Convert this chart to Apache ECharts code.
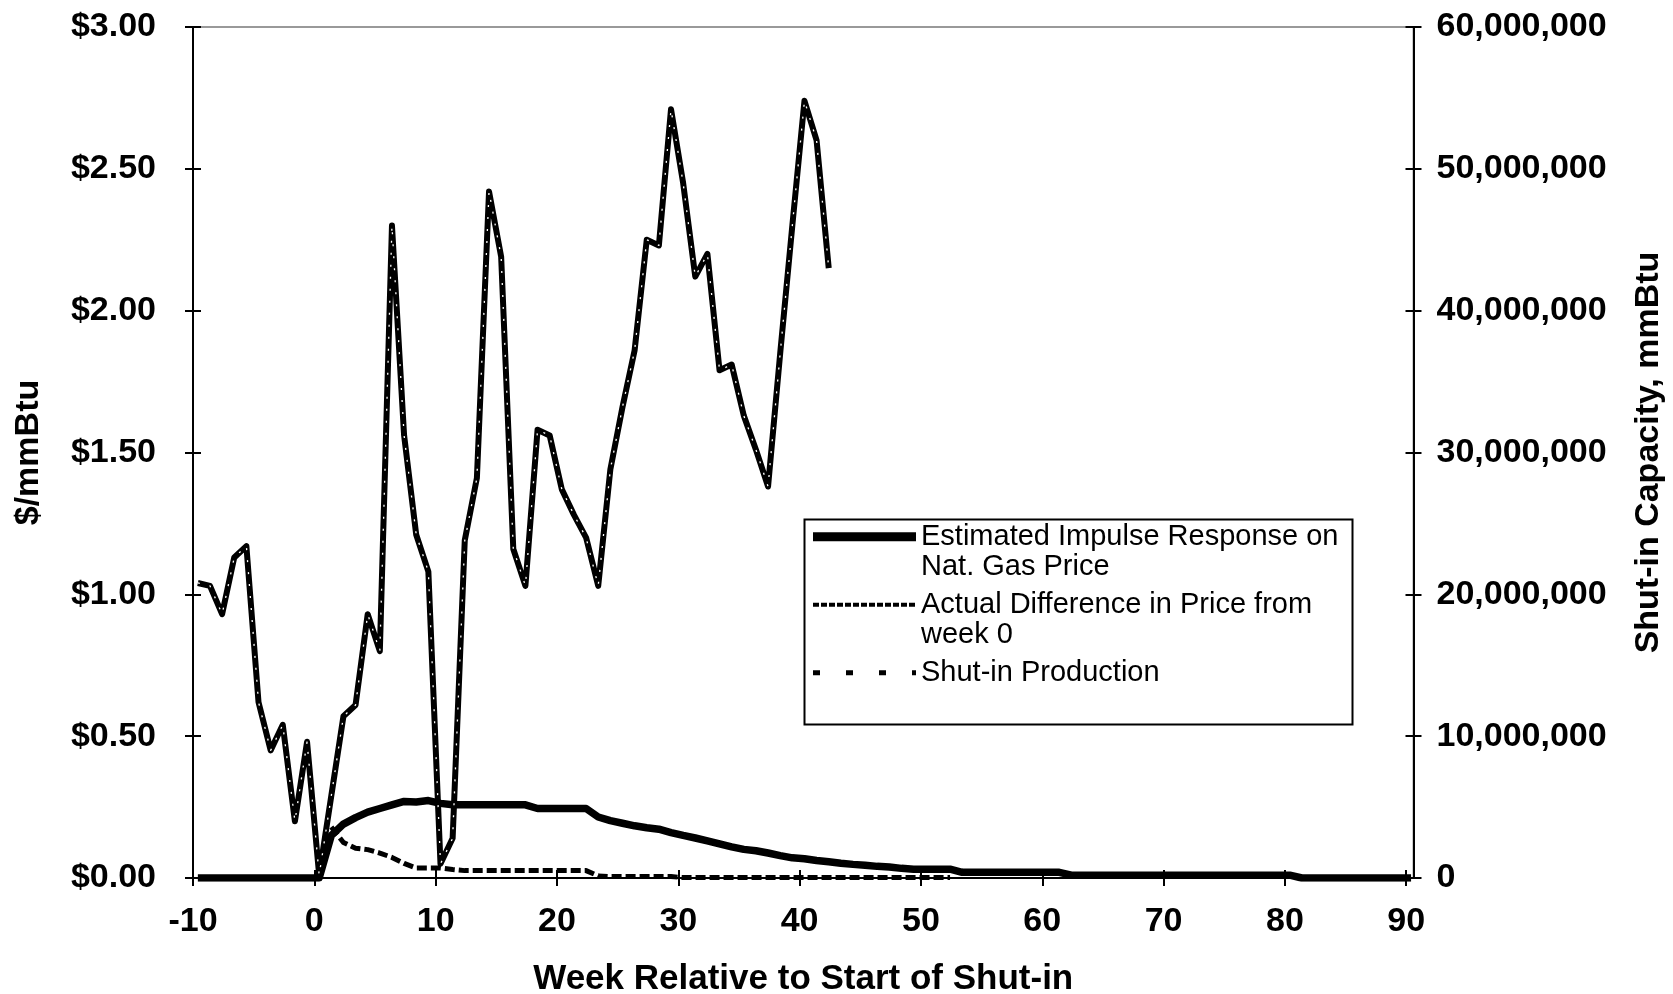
<!DOCTYPE html>
<html>
<head>
<meta charset="utf-8">
<title>Shut-in impulse response</title>
<script src="https://cdn.jsdelivr.net/npm/echarts@6/dist/echarts.min.js"></script>
<style>
  html, body { margin: 0; padding: 0; background: #fff; }
  #chart { width: 1673px; height: 994px; }
</style>
</head>
<body>
<div id="chart"></div>
<script>
// ---- tick labels ----
const weekTicks = [-10, 0, 10, 20, 30, 40, 50, 60, 70, 80, 90];
const priceTicks = [0, 0.5, 1, 1.5, 2, 2.5, 3];
const capacityTicks = [0, 10000000, 20000000, 30000000, 40000000, 50000000, 60000000];

// ---- series names / legend wording ----
const nameImpulse = 'Estimated Impulse Response on Nat. Gas Price';
const nameActual = 'Actual Difference in Price from week 0';
const nameShutIn = 'Shut-in Production';
// a blank first line keeps the first text line level with the legend swatch
const legendText = {
  [nameImpulse]: '\nEstimated Impulse Response on\nNat. Gas Price',
  [nameActual]: '\nActual Difference in Price from\nweek 0',
  [nameShutIn]: '\nShut-in Production\n'
};

// ---- weekly values ($/mmBtu), first entry is week -10 ----
const impulseFirstWeek = -10;
const impulseResponse = [
  0, 0, 0, 0, 0, 0, 0, 0, 0, 0, 0,
  0.15, 0.19, 0.213, 0.232, 0.245, 0.258, 0.27, 0.268, 0.273, 0.263,
  0.258, 0.258, 0.258, 0.258, 0.258, 0.258, 0.258,
  0.245, 0.245, 0.245, 0.245, 0.245,
  0.215, 0.202, 0.193, 0.184, 0.177, 0.172, 0.16, 0.15, 0.141, 0.131,
  0.12, 0.11, 0.101, 0.096, 0.088, 0.079, 0.071, 0.068, 0.062, 0.057,
  0.052, 0.048, 0.045, 0.041, 0.039, 0.034,
  0.031, 0.031, 0.031, 0.031,
  0.02, 0.02, 0.02, 0.02, 0.02, 0.02, 0.02, 0.02, 0.02,
  0.01, 0.01, 0.01, 0.01, 0.01, 0.01, 0.01, 0.01, 0.01, 0.01,
  0.01, 0.01, 0.01, 0.01, 0.01, 0.01, 0.01, 0.01, 0.01,
  0, 0, 0, 0, 0, 0, 0, 0, 0, 0
];

// ---- weekly values ($/mmBtu), first entry is week -10 ----
const actualFirstWeek = -10;
const actualDifference = [
  1.04, 1.03, 0.93, 1.13, 1.17, 0.62, 0.45, 0.54, 0.20, 0.48,
  0.01, 0.29, 0.57, 0.61, 0.93, 0.80, 2.30, 1.56, 1.21, 1.08,
  0.05, 0.14, 1.19, 1.41, 2.42, 2.19, 1.16, 1.03, 1.58, 1.56,
  1.37, 1.28, 1.20, 1.03, 1.44, 1.66, 1.86, 2.25, 2.23, 2.71,
  2.45, 2.12, 2.20, 1.79, 1.81, 1.63, 1.51, 1.38, 1.85, 2.30,
  2.74, 2.60, 2.15
];

// ---- weekly shut-in volume (mmBtu), first entry is week 1 ----
const shutInFirstWeek = 1;
const shutInProduction = [
  3600000, 2500000, 2100000, 2000000, 1760000, 1450000, 1030000, 700000, 700000, 700000,
  600000, 520000, 520000, 520000, 520000, 520000, 520000, 520000, 520000, 520000,
  520000, 520000, 150000, 100000, 100000, 100000, 100000, 100000, 100000, 30000,
  30000, 30000, 30000, 30000, 30000, 30000, 30000, 30000, 30000, 30000,
  30000, 30000, 30000, 30000, 30000, 30000, 30000, 30000, 30000, 30000,
  30000, 30000
];

// each weekly point sits slightly past its week tick
const WEEK_OFFSET = 0.4;
const toPairs = (firstWeek, values) => values.map((v, i) => [firstWeek + i + WEEK_OFFSET, v]);

const FONT = "'Liberation Sans', Arial, Helvetica, sans-serif";
const boldLabel = { fontFamily: FONT, fontWeight: 'bold', fontSize: 34, color: '#000' };
const titleStyle = { fontFamily: FONT, fontWeight: 'bold', fontSize: 34, color: '#000' };
const axisBlack = { color: '#000', width: 2 };

const xBase = {
  type: 'value', min: -10, max: 90.6, interval: 10, position: 'bottom',
  splitLine: { show: false }
};
const priceBase = { type: 'value', min: 0, max: 3, interval: 0.5, position: 'left', splitLine: { show: false } };
const capBase = { type: 'value', min: 0, max: 60000000, interval: 10000000, position: 'right', splitLine: { show: false } };
// second copy of an axis that only draws the inward half of each tick
const innerTicks = (values) => ({
  axisLine: { show: false, onZero: false },
  axisLabel: { show: false },
  axisTick: { show: true, inside: true, length: 8, customValues: values, lineStyle: axisBlack }
});

const chart = echarts.init(document.getElementById('chart'), null, { renderer: 'canvas' });

chart.setOption({
  animation: false,
  backgroundColor: '#fff',
  grid: {
    left: 193, right: 259.5, top: 27, bottom: 116,
    containLabel: false, outerBoundsMode: 'none',
    show: true, borderColor: '#999', borderWidth: 2, backgroundColor: 'transparent'
  },
  xAxis: [
    Object.assign({}, xBase, {
      axisLine: { show: true, onZero: false, lineStyle: axisBlack },
      axisTick: { show: true, length: 8, customValues: weekTicks, lineStyle: axisBlack },
      axisLabel: Object.assign({}, boldLabel, {
        margin: 27, customValues: weekTicks,
        formatter: v => (Math.abs(v % 10) < 1e-9 ? String(v) : '')
      }),
      name: 'Week Relative to Start of Shut-in',
      nameLocation: 'middle', nameGap: 84,
      nameTextStyle: Object.assign({}, titleStyle, { fontSize: 35 })
    }),
    Object.assign({}, xBase, innerTicks(weekTicks))
  ],
  yAxis: [
    Object.assign({}, priceBase, {
      axisLine: { show: true, onZero: false, lineStyle: axisBlack },
      axisTick: { show: true, length: 8, customValues: priceTicks, lineStyle: axisBlack },
      axisLabel: Object.assign({}, boldLabel, {
        margin: 37, customValues: priceTicks,
        formatter: v => '$' + v.toFixed(2)
      }),
      name: '$/mmBtu', nameLocation: 'middle', nameGap: 147, nameRotate: 90,
      nameTextStyle: titleStyle
    }),
    Object.assign({}, capBase, {
      axisLine: { show: true, onZero: false, lineStyle: axisBlack },
      axisTick: { show: true, length: 8, customValues: capacityTicks, lineStyle: axisBlack },
      axisLabel: Object.assign({}, boldLabel, {
        margin: 23, customValues: capacityTicks,
        formatter: v => v.toLocaleString('en-US')
      }),
      name: 'Shut-in Capacity, mmBtu', nameLocation: 'middle', nameGap: 218, nameRotate: 90,
      nameTextStyle: titleStyle
    }),
    Object.assign({}, priceBase, innerTicks(priceTicks)),
    Object.assign({}, capBase, innerTicks(capacityTicks))
  ],
  legend: {
    orient: 'vertical',
    left: 808.5, top: 491,
    padding: 0, itemGap: -23.5,
    itemWidth: 103, itemHeight: 14,
    borderWidth: 0, backgroundColor: 'transparent',
    selectedMode: false,
    textStyle: { fontFamily: FONT, fontSize: 29, lineHeight: 30.5, color: '#000' },
    formatter: n => legendText[n],
    data: [
      { name: nameImpulse, itemStyle: { opacity: 0 }, lineStyle: { color: '#000', width: 9, type: 'solid', opacity: 1 } },
      { name: nameActual, itemStyle: { opacity: 0 }, lineStyle: { color: '#000', width: 4, type: [6, 2], opacity: 1 } },
      { name: nameShutIn, itemStyle: { opacity: 0 }, lineStyle: { color: '#000', width: 5, type: [7, 26], opacity: 1 } }
    ]
  },
  graphic: [
    {
      type: 'rect', left: 802, top: 517, z: 1, silent: true,
      shape: { width: 548, height: 205 },
      style: { fill: 'none', stroke: '#000', lineWidth: 2 }
    }
  ],
  series: [
    {
      name: nameShutIn, type: 'line', xAxisIndex: 0, yAxisIndex: 1,
      data: toPairs(shutInFirstWeek, shutInProduction),
      symbol: 'none', showSymbol: false, z: 2,
      lineStyle: { color: '#000', width: 5, type: [10, 4], cap: 'butt', join: 'round' }
    },
    {
      name: nameImpulse, type: 'line', xAxisIndex: 0, yAxisIndex: 0,
      data: toPairs(impulseFirstWeek, impulseResponse),
      symbol: 'none', showSymbol: false, z: 3,
      lineStyle: { color: '#000', width: 7.5, join: 'round' }
    },
    {
      name: nameActual, type: 'line', xAxisIndex: 0, yAxisIndex: 0,
      data: toPairs(actualFirstWeek, actualDifference),
      symbol: 'none', showSymbol: false, z: 4,
      lineStyle: { color: '#000', width: 6, join: 'round' }
    },
    {
      name: nameActual, type: 'line', xAxisIndex: 0, yAxisIndex: 0,
      data: toPairs(actualFirstWeek, actualDifference),
      symbol: 'none', showSymbol: false, z: 5,
      lineStyle: { color: '#fff', width: 1.3, type: [2, 10], cap: 'butt', join: 'round' }
    }
  ]
});
</script>
</body>
</html>
